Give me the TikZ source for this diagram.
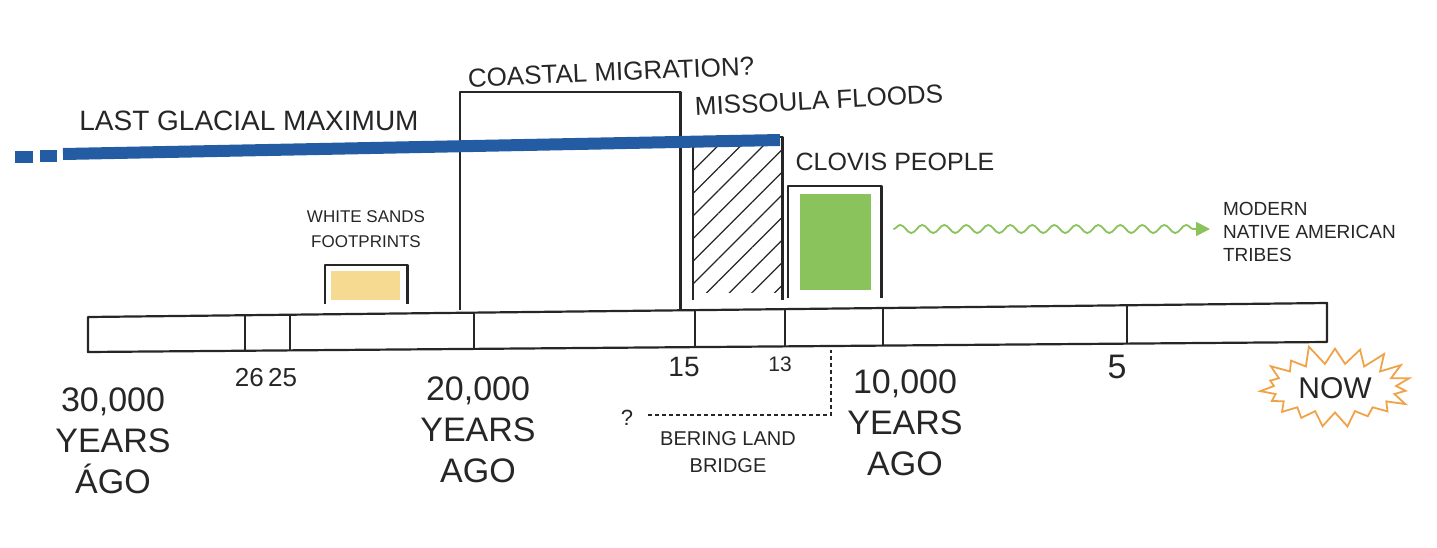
\documentclass[tikz,border=0pt]{standalone}
\usepackage{fontspec}
\setmainfont{Liberation Sans}
\usepackage{xcolor}
\usetikzlibrary{arrows.meta,positioning,calc,fit,decorations.pathmorphing,patterns.meta,shapes.symbols}
\definecolor{ink}{RGB}{38,38,38}
\definecolor{glacierblue}{RGB}{36,92,164}
\definecolor{sandyellow}{RGB}{247,218,146}
\definecolor{clovisgreen}{RGB}{138,194,92}
\definecolor{nowamber}{RGB}{240,162,72}

\begin{document}
\begin{tikzpicture}[x=0.5pt, y=-0.5pt,
      period/.style={draw=ink, line width=1.1pt, line join=round},
      spanfit/.style={inner sep=0pt},
      glacial/.style={draw=glacierblue, line width=6pt},
      descent/.style={draw=clovisgreen, line width=0.9pt, decorate,
                  decoration={snake, amplitude=2pt, segment length=11pt, post length=6pt},
                  -{Triangle[length=7pt, width=7pt]}},
      bridgeline/.style={draw=ink, line width=0.6pt, dash pattern=on 2pt off 1.5pt},
      biglbl/.style={text=ink, font=\fontsize{13}{15}\selectfont},
      midlbl/.style={text=ink, align=left, font=\fontsize{9.5}{11.5}\selectfont},
      tinylbl/.style={text=ink, align=center, font=\fontsize{8.5}{12.5}\selectfont},
      yearlbl/.style={text=ink, align=center, font=\fontsize{17}{20.5}\selectfont},
      ticklbl/.style={text=ink, font=\fontsize{12}{14}\selectfont}
    ]
      \useasboundingbox (0,0) rectangle (1437,547);

      % --- the timeline bar and its ticks ---
      \coordinate (barTL) at (88,317);
      \coordinate (barTR) at (1327,303);
      \coordinate (barBL) at (88,352);
      \coordinate (barBR) at (1327,342);
      \draw[period] (barTL) -- (barTR) -- (barBR) -- (barBL) -- cycle;
      \foreach \x in {245,290,474,695,785,883,1127}
        \draw[period] ($(barTL)!{(\x-88)/1239}!(barTR)$) -- ($(barBL)!{(\x-88)/1239}!(barBR)$);

      % --- periods above the bar (open at the bottom) ---
      \node[spanfit, fit={(325,265) (407,304)}] (sands)    {};
      \node[spanfit, fit={(460,92) (680,310)}]  (coastal)  {};
      \node[spanfit, fit={(693,137) (782,300)}] (missoula) {};
      \node[spanfit, fit={(788,186) (881,298)}] (clovis)   {};

      \fill[sandyellow] ([shift={(6,6)}]sands.north west) rectangle ([shift={(-7,-4)}]sands.south east);
      \fill[clovisgreen] ([shift={(12,8)}]clovis.north west) rectangle ([shift={(-10,-8)}]clovis.south east);
      \fill[pattern={Lines[angle=45, distance=8pt, line width=0.6pt]}, pattern color=ink]
        (missoula.north west) rectangle ([yshift=4]missoula.south east);

      \draw[period] (sands.south west)    |- (sands.north east)    -- (sands.south east);
      \draw[period] (coastal.south west)  |- (coastal.north east)  -- (coastal.south east);
      \draw[period] (missoula.south west) |- (missoula.north east) -- (missoula.south east);
      \draw[period] (clovis.south west)   |- (clovis.north east)   -- (clovis.south east);

      % --- last glacial maximum ---
      \draw[glacial] (15,157) -- (33,157);
      \draw[glacial] (40,156) -- (57,156);
      \draw[glacial] (63,154) -- (780,140);

      % --- period labels ---
      \node[biglbl, font=\fontsize{14}{16}\selectfont] (lgm) at (249,121) {LAST GLACIAL MAXIMUM};
      \node[biglbl, rotate=2.5]   (coastallbl)  at (611,72)  {COASTAL MIGRATION?};
      \node[biglbl, rotate=3]     (missoulalbl) at (819,100) {MISSOULA FLOODS};
      \node[biglbl, font=\fontsize{12.5}{15}\selectfont] (clovislbl) at (895,162) {CLOVIS PEOPLE};
      \node[tinylbl, above=5pt of sands] (sandslbl) {WHITE SANDS\\FOOTPRINTS};

      % --- descent to today ---
      \node[midlbl, anchor=west] (tribes) at (1216,232) {MODERN\\NATIVE AMERICAN\\TRIBES};
      \draw[descent] ($(clovis.east |- tribes.west)+(12,-3)$) -- ($(tribes.west)+(-6,-3)$);

      % --- dates below the bar ---
      \node[yearlbl] (thirty) at (113,441) {30,000\\YEARS\\ÁGO};
      \node[ticklbl, font=\fontsize{13}{15}\selectfont] (twentysix) at (266,378) {26\,25};
      \node[yearlbl] (twenty) at (478,430) {20,000\\YEARS\\AGO};
      \node[ticklbl, font=\fontsize{14}{16}\selectfont] (fifteen) at (684,367) {15};
      \node[ticklbl, font=\fontsize{10.5}{12}\selectfont] (thirteen) at (780,364) {13};
      \node[yearlbl] (ten) at (905,423) {10,000\\YEARS\\AGO};
      \node[ticklbl, font=\fontsize{17}{19}\selectfont] (five) at (1117,367) {5};
      \node[starburst, starburst points=19, starburst point height=10pt, random starburst=11,
            draw=nowamber, line width=0.9pt, minimum width=74pt, minimum height=38pt,
            text=ink, font=\fontsize{15}{17}\selectfont] (now) at (1335,388) {NOW};

      % --- bering land bridge ---
      \coordinate (landbridge) at (831,350);
      \node[ticklbl, font=\fontsize{11}{12}\selectfont] (qmark) at (627,418) {?};
      \draw[bridgeline] (qmark.east) ++(8,-3) -| (landbridge);
      \node[tinylbl, font=\fontsize{10}{13.5}\selectfont] (bering) at (728,452) {BERING LAND\\BRIDGE};
    \end{tikzpicture}
\end{document}
